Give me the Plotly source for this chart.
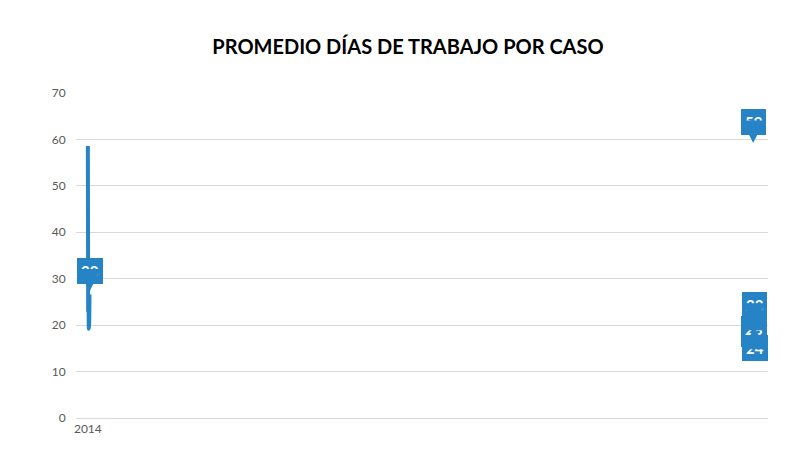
import plotly.graph_objects as go

categories = ["2014", "2015", "2016", "2017", "2018", "ene-mar 2019"]
line_values = [58.6, 23.3, 24.4, 19.2, 20.3, 26.6]
label_texts = ["59", "27", "28", "23", "24", "30"]
label_side = [1, -1, -1, 1, -1, 1]

blue = "#2683C6"
fig = go.Figure()
fig.add_trace(go.Scatter(x=categories, y=line_values, mode="lines",
                         line=dict(color=blue, width=4, shape="spline", smoothing=0.5),
                         hoverinfo="skip"))
for c, v, t, s in zip(categories, line_values, label_texts, label_side):
    fig.add_annotation(x=c, y=v, text="<b>" + t + "</b>", showarrow=True,
                       arrowhead=2, arrowsize=1.5, arrowwidth=3, arrowcolor=blue,
                       ax=0, ay=-24 * s, standoff=3, bgcolor=blue, bordercolor=blue,
                       borderpad=3, font=dict(color="white", size=15, family="Lato"))
fig.update_layout(
    width=800, height=460, paper_bgcolor="white", plot_bgcolor="white",
    margin=dict(l=68, r=40, t=85, b=50), showlegend=False,
    title=dict(text="<b>PROMEDIO DÍAS DE TRABAJO POR CASO</b>", x=0.5, y=0.93,
               xanchor="center", font=dict(size=20, color="black", family="Lato")),
    xaxis=dict(type="category", showgrid=False, showline=True, linecolor="#d9d9d9",
               tickfont=dict(size=12, color="#595959", family="Lato"), ticks=""),
    yaxis=dict(range=[0, 70], dtick=10, gridcolor="#d9d9d9", zeroline=False,
               tickfont=dict(size=12, color="#595959", family="Lato"), ticksuffix="   "),
)
fig.write_html("out.html")
